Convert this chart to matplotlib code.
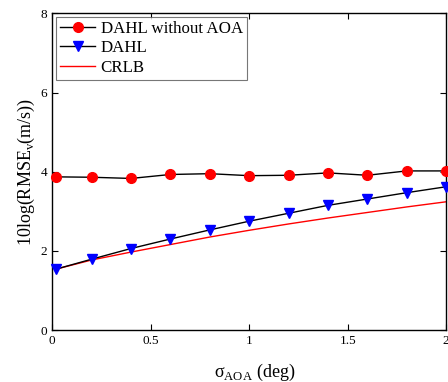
import matplotlib
matplotlib.use("Agg")
import matplotlib.pyplot as plt

plt.rcParams['font.family'] = ['Liberation Serif', 'DejaVu Serif']
plt.rcParams['mathtext.fontset'] = 'custom'
plt.rcParams['mathtext.rm'] = 'Liberation Serif'

# noise level of the angle-of-arrival measurement (deg)
sigma_aoa = [0.02, 0.2, 0.4, 0.6, 0.8, 1.0, 1.2, 1.4, 1.6, 1.8, 2.0]

# 10log(RMSE) of velocity for each estimator
dahl_no_aoa = [3.87, 3.86, 3.83, 3.93, 3.95, 3.90, 3.91, 3.97, 3.91, 4.02, 4.02]
dahl = [1.54, 1.79, 2.06, 2.30, 2.53, 2.75, 2.95, 3.15, 3.31, 3.47, 3.62]
crlb = [1.54, 1.77, 1.97, 2.16, 2.35, 2.52, 2.68, 2.83, 2.97, 3.11, 3.24]

fig = plt.figure(figsize=(4.48, 3.82), dpi=100)
ax = fig.add_axes([0.1167, 0.136, 0.879, 0.829])

ax.plot(sigma_aoa, dahl_no_aoa, '-', color='black', lw=1.0, marker='o',
        markersize=7, markerfacecolor='red', markeredgecolor='red',
        label='DAHL without AOA', clip_on=False, zorder=3)
ax.plot(sigma_aoa, dahl, '-', color='black', lw=1.0, marker='v',
        markersize=7.5, markerfacecolor='blue', markeredgecolor='blue',
        label='DAHL', clip_on=False, zorder=3)
ax.plot(sigma_aoa, crlb, '-', color='red', lw=1.0, label='CRLB', zorder=2)

ax.set_xlim(0, 2)
ax.set_ylim(0, 8)
ax.set_xticks([0, 0.5, 1, 1.5, 2])
ax.set_xticklabels(['0', '0.5', '1', '1.5', '2'])
ax.set_yticks([0, 2, 4, 6, 8])
ax.tick_params(direction='in', top=True, right=True, labelsize=9.5,
               length=4, width=0.8)
for sp in ax.spines.values():
    sp.set_linewidth(1.0)

ax.set_xlabel('σ$_{\\mathrm{AOA}}$ (deg)', fontsize=13, labelpad=9)
ax.xaxis.set_label_coords(0.515, -0.1)
ax.set_ylabel('10log(RMSE$_{\\mathrm{v}}$(m/s))', fontsize=13, labelpad=3)

leg = ax.legend(loc='upper left', fontsize=12.2, frameon=True, fancybox=False,
                edgecolor='#555555', borderaxespad=0.2, handlelength=2.1,
                borderpad=0.25, labelspacing=0.2, handletextpad=0.3)
leg.get_frame().set_linewidth(0.8)

fig.savefig('out.png', dpi=100)
